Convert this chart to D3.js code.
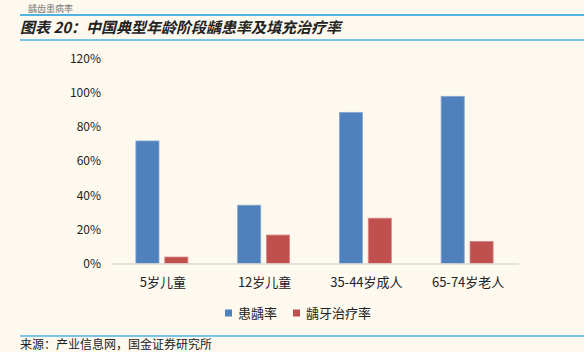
<!DOCTYPE html>
<html>
<head>
<meta charset="utf-8">
<script src="https://cdn.jsdelivr.net/npm/d3@7"></script>
<style>
  body { margin: 0; background: #fdf9ef; }
  svg { display: block; }
</style>
</head>
<body>
<svg id="chart"></svg>
<script>
// DATA ////////////////////////////////////////////////////////////
var categories = ["5岁儿童", "12岁儿童", "35-44岁成人", "65-74岁老人"];
var seriesNames = ["患龋率", "龋牙治疗率"];
var cariesRate = [71.9, 34.2, 88.7, 98.1];
var treatRate = [3.8, 16.7, 26.6, 13.0];
var yTicks = [0, 20, 40, 60, 80, 100, 120];

var COLOURS = ["#4f81bd", "#c0504d"];
var WIDTH = 584, HEIGHT = 352;
var PLOT = { left: 112, right: 519, top: 59, bottom: 263.5 };

var svg = d3.select("#chart").attr("width", WIDTH).attr("height", HEIGHT);
var FONT = "'Noto Sans CJK SC', 'Liberation Sans', sans-serif";

// small text above the header (cut in the reference)
svg.append("text").attr("x", 28).attr("y", 11.5)
    .style("font-family", FONT).style("font-size", "9px").attr("fill", "#777")
    .text("龋齿患病率");

// header lines + title
svg.append("line").attr("x1", 20).attr("x2", WIDTH).attr("y1", 15).attr("y2", 15)
    .attr("stroke", "#4fb3e6").attr("stroke-width", 2);
svg.append("line").attr("x1", 20).attr("x2", WIDTH).attr("y1", 40).attr("y2", 40)
    .attr("stroke", "#4fb3e6").attr("stroke-width", 1.5);
svg.append("text").attr("x", 20).attr("y", 33)
    .style("font-family", FONT).style("font-size", "15px")
    .style("font-style", "italic").style("font-weight", "bold").attr("fill", "#222")
    .text("图表 20：中国典型年龄阶段龋患率及填充治疗率");

// scales
var x0 = d3.scaleBand().domain(categories).range([PLOT.left, PLOT.right]);
var x1 = d3.scaleBand().domain(seriesNames).range([0, 52]).paddingInner(0.2);
var y = d3.scaleLinear().domain([0, 120]).range([PLOT.bottom, PLOT.top]);

// y labels
svg.append("g").selectAll("text").data(yTicks).enter().append("text")
    .attr("x", 101).attr("y", function (d) { return y(d); })
    .attr("dy", "0.35em").attr("text-anchor", "end")
    .style("font-family", FONT).style("font-size", "12px").attr("fill", "#222")
    .text(function (d) { return d + "%"; });

// bars
var rows = categories.map(function (c, i) {
    return { cat: c, values: [cariesRate[i], treatRate[i]] };
});
var groups = svg.append("g").selectAll("g").data(rows).enter().append("g")
    .attr("transform", function (d) {
        return "translate(" + (x0(d.cat) + x0.bandwidth() / 2 - 27) + ",0)";
    });
groups.selectAll("rect")
    .data(function (d) { return d.values.map(function (v, j) { return { key: seriesNames[j], v: v, j: j }; }); })
    .enter().append("rect")
    .attr("x", function (d) { return x1(d.key); })
    .attr("width", x1.bandwidth())
    .attr("y", function (d) { return y(d.v); })
    .attr("height", function (d) { return y(0) - y(d.v); })
    .attr("fill", function (d) { return COLOURS[d.j]; })
    .attr("stroke", function (d) { return d.j === 0 ? "#86a8d4" : "#d88b89"; })
    .attr("stroke-width", 0.8);

// baseline
svg.append("line").attr("x1", PLOT.left).attr("x2", PLOT.right)
    .attr("y1", y(0) + 0.5).attr("y2", y(0) + 0.5)
    .attr("stroke", "#d9d9d9").attr("stroke-width", 1.5);

// x labels
svg.append("g").selectAll("text").data(categories).enter().append("text")
    .attr("x", function (d) { return x0(d) + x0.bandwidth() / 2; })
    .attr("y", 287).attr("text-anchor", "middle")
    .style("font-family", FONT).style("font-size", "13px").attr("fill", "#222")
    .text(function (d) { return d; });

// legend
var legendX = [225, 293];
var legend = svg.append("g").selectAll("g").data(seriesNames).enter().append("g")
    .attr("transform", function (d, i) { return "translate(" + legendX[i] + ",313)"; });
legend.append("rect").attr("x", 0).attr("y", -3.5).attr("width", 7).attr("height", 7)
    .attr("fill", function (d, i) { return COLOURS[i]; });
legend.append("text").attr("x", 13).attr("dy", "0.35em")
    .style("font-family", FONT).style("font-size", "13px").attr("fill", "#222")
    .text(function (d) { return d; });

// footer
svg.append("line").attr("x1", 20).attr("x2", WIDTH).attr("y1", 336).attr("y2", 336)
    .attr("stroke", "#4fb3e6").attr("stroke-width", 1.5);
svg.append("text").attr("x", 20).attr("y", 349)
    .style("font-family", FONT).style("font-size", "12px").attr("fill", "#222")
    .text("来源：产业信息网，国金证券研究所");
</script>
</body>
</html>
